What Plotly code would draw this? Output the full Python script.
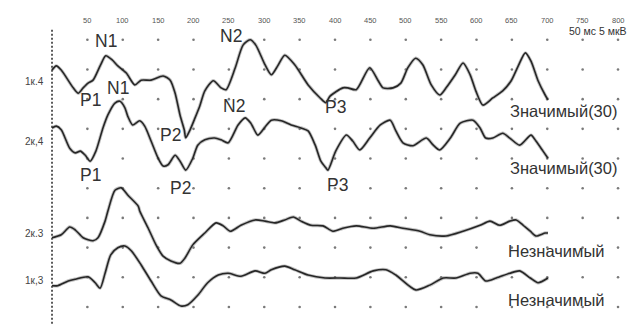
import plotly.graph_objects as go

# ---- data (time in ms, amplitude in µV relative to channel baseline) ----
t_1k4 = [0, 6, 13, 30, 37, 44, 51, 58, 68, 76, 85, 93, 105, 117, 126, 140, 157, 167, 174, 181, 187, 189,
         195, 202, 209, 216, 228, 239, 246, 259, 270, 280, 288, 301, 310, 319, 329, 343, 362, 379, 387,
         393, 411, 418, 430, 449, 461, 468, 482, 493, 503, 514, 524, 536, 548, 557, 570, 581, 591, 599,
         609, 623, 637, 649, 659, 669, 677, 687, 697, 701]
a_1k4 = [2.0, 2.7, 2.0, -1.0, -1.9, -1.0, -0.2, 0.3, 2.7, 4.4, 3.7, 2.7, 1.5, -0.5, 0.3, 0.3, 1.0, 0.3, -1.9,
         -5.6, -8.1, -9.4, -8.1, -6.1, -4.0, -1.5, 0.2, -1.0, -1.3, 2.4, 6.2, 7.1, 6.2, 2.9, 1.2, 2.7, 4.5,
         2.9, -0.5, -2.7, -3.5, -2.4, -1.0, -1.0, -1.3, 2.4, 0.2, -1.0, -1.0, -0.2, 2.4, 4.0, 2.9, -0.5,
         -2.2, -1.0, 1.2, 3.2, 1.2, -1.5, -3.9, -2.7, -1.5, 0.2, 2.7, 4.9, 3.5, 0.2, -2.2, -3.0]

t_2k4 = [0, 6, 13, 25, 33, 40, 47, 54, 62, 72, 79, 89, 96, 103, 107, 114, 124, 131, 140, 150, 157, 164,
         174, 181, 189, 199, 206, 216, 230, 239, 249, 263, 273, 281, 291, 302, 310, 324, 338, 352, 362,
         372, 380, 387, 390, 401, 416, 425, 435, 449, 464, 478, 486, 496, 510, 529, 539, 548, 563, 577,
         595, 605, 613, 623, 637, 647, 661, 677, 684, 694, 701]
a_2k4 = [2.2, 2.5, 1.9, -1.2, -2.0, -1.7, -2.4, -3.4, -1.7, 2.2, 4.4, 6.4, 6.7, 5.6, 4.2, 2.7, 3.4, 2.5,
         0.0, -2.9, -4.2, -4.0, -2.4, -3.4, -4.9, -2.9, -0.7, 0.2, 0.5, 0.2, -0.3, 2.7, 3.9, 3.0, 1.0, 2.5,
         3.5, 3.4, 2.7, 2.2, 1.7, -0.7, -3.4, -4.5, -4.9, -1.7, 1.0, 0.0, -1.5, 0.5, 2.7, 3.5, 1.7, -0.3,
         -0.8, 0.5, -0.7, -1.5, 0.5, 3.0, 3.5, 2.2, 0.5, 0.5, 1.3, 0.5, -0.7, 1.0, 0.0, -1.7, -2.9]

t_2k3 = [0, 13, 25, 33, 44, 58, 65, 75, 79, 89, 98, 107, 122, 124, 136, 147, 157, 168, 181, 188, 199,
         216, 232, 242, 252, 267, 287, 301, 315, 329, 341, 352, 366, 383, 397, 411, 430, 454, 478, 496,
         520, 534, 557, 581, 605, 619, 633, 647, 656, 666, 676, 684, 697, 701]
a_2k3 = [-0.8, -0.3, 1.0, 0.5, -0.8, -1.3, -0.8, 2.0, 3.7, 7.2, 7.6, 6.4, 4.5, 3.7, 0.8, -2.0, -3.9,
         -4.7, -5.1, -4.2, -2.0, 0.0, 1.7, 1.2, 0.3, 1.3, 2.2, 2.0, 1.7, 2.2, 2.7, 2.0, 1.3, 1.2, 0.3,
         0.8, 1.2, 0.8, 1.2, 0.8, 0.3, -0.3, -0.5, 0.3, 1.3, 2.0, 1.3, 2.0, 2.2, 1.3, 0.3, -0.5, 0.0, 0.0]

t_1k3 = [0, 8, 23, 33, 51, 61, 68, 75, 83, 93, 103, 112, 126, 140, 154, 168, 182, 192, 206, 220, 235,
         249, 267, 287, 301, 310, 329, 343, 362, 386, 407, 430, 454, 472, 486, 514, 534, 553, 571, 591,
         602, 613, 628, 647, 661, 676, 687, 701]
a_1k3 = [-0.8, -0.8, 0.0, 0.3, 0.7, -0.3, -1.2, 1.3, 4.4, 5.6, 5.9, 5.1, 2.7, 0.0, -2.5, -3.2, -4.2,
         -4.0, -2.4, -0.3, 1.0, 1.3, 0.8, 1.7, 1.3, 1.9, 2.5, 1.9, 1.0, 0.5, 0.5, 0.5, 1.7, 1.9, 1.0,
         -1.5, -0.7, 0.5, 0.5, 1.3, 1.3, 0.0, 0.5, 1.3, 1.7, 0.5, -0.3, 0.5]

channel_names = ["1к.4", "2к,4", "2к.3", "1к,3"]
channel_status = ["Значимый(30)", "Значимый(30)", "Незначимый", "Незначимый"]
tick_labels = ["50", "100", "150", "200", "250", "300", "350", "400", "450", "500", "550", "600",
               "650", "700", "750", "800"]
tick_ms = [50, 100, 150, 200, 250, 300, 350, 400, 450, 500, 550, 600, 650, 700, 750, 800]
grid_uv = [0, 5, 10, 15, 20, 25, 30, 35, 40, 45]

# peak labels: (text, ms, µV on the shared axis)
peak_text = ["N1", "P1", "N1", "P2", "N2", "N2", "P1", "P2", "P3", "P3"]
peak_ms = [76, 55, 93, 168, 253, 257, 55, 182, 400, 404]
peak_uv = [44.8, 34.9, 36.9, 29.0, 45.6, 33.8, 22.2, 20.0, 33.7, 20.5]

# ---- layout constants ----
offsets = [37.9, 27.95, 12.46, 4.38]
status_y = [33.0, 23.4, 9.4, 1.2]
series = [(t_1k4, a_1k4), (t_2k4, a_2k4), (t_2k3, a_2k3), (t_1k3, a_1k3)]

fig = go.Figure()

# dotted grid
gx, gy = [], []
for yv in grid_uv:
    for xv in tick_ms:
        gx.append(xv)
        gy.append(yv)
fig.add_trace(go.Scatter(x=gx, y=gy, mode="markers",
                         marker=dict(size=2.6, color="#7a7a7a"), hoverinfo="skip", showlegend=False))

# zero line (dashed)
fig.add_trace(go.Scatter(x=[0, 0], y=[-3.5, 47.0], mode="lines",
                         line=dict(color="#333333", width=1.6, dash="2px,2px"),
                         hoverinfo="skip", showlegend=False))

for (tt, aa), off in zip(series, offsets):
    yy = [v + off for v in aa]
    fig.add_trace(go.Scatter(x=tt, y=yy, mode="lines",
                             line=dict(color="rgba(120,120,120,0.45)", width=3.4, shape="spline", smoothing=0.7),
                             hoverinfo="skip", showlegend=False))
    fig.add_trace(go.Scatter(x=tt, y=yy, mode="lines",
                             line=dict(color="#262626", width=1.6, shape="spline", smoothing=0.7),
                             showlegend=False))

font_main = "Liberation Sans, Arial, sans-serif"

# tick labels along the top
for lbl, xv in zip(tick_labels, tick_ms):
    fig.add_annotation(x=xv, y=48.3, text=lbl, showarrow=False,
                       font=dict(size=7.5, color="#555555", family=font_main))

# scale label
fig.add_annotation(x=772, y=46.4, text="50 мс 5 мкВ", showarrow=False,
                   font=dict(size=10.5, color="#333333", family=font_main))

# channel labels
for name, off in zip(channel_names, offsets):
    fig.add_annotation(x=-9, y=off, text=name, showarrow=False, xanchor="right",
                       font=dict(size=10, color="#444444", family=font_main))

# status labels
for st, yv in zip(channel_status, status_y):
    fig.add_annotation(x=723 if "(" in st else 713, y=yv, text=st, showarrow=False,
                       font=dict(size=16.5, color="#333333", family=font_main))

# peak labels
for txt, xv, yv in zip(peak_text, peak_ms, peak_uv):
    fig.add_annotation(x=xv, y=yv, text=txt, showarrow=False,
                       font=dict(size=17.5, color="#333333", family=font_main))

fig.update_layout(
    width=635, height=325,
    margin=dict(l=0, r=0, t=0, b=0),
    paper_bgcolor="white", plot_bgcolor="white",
    xaxis=dict(range=[-62.2, 835.3], visible=False, fixedrange=True),
    yaxis=dict(range=[-4.38, 50.35], visible=False, fixedrange=True),
    showlegend=False,
)

fig.write_html("out.html")
